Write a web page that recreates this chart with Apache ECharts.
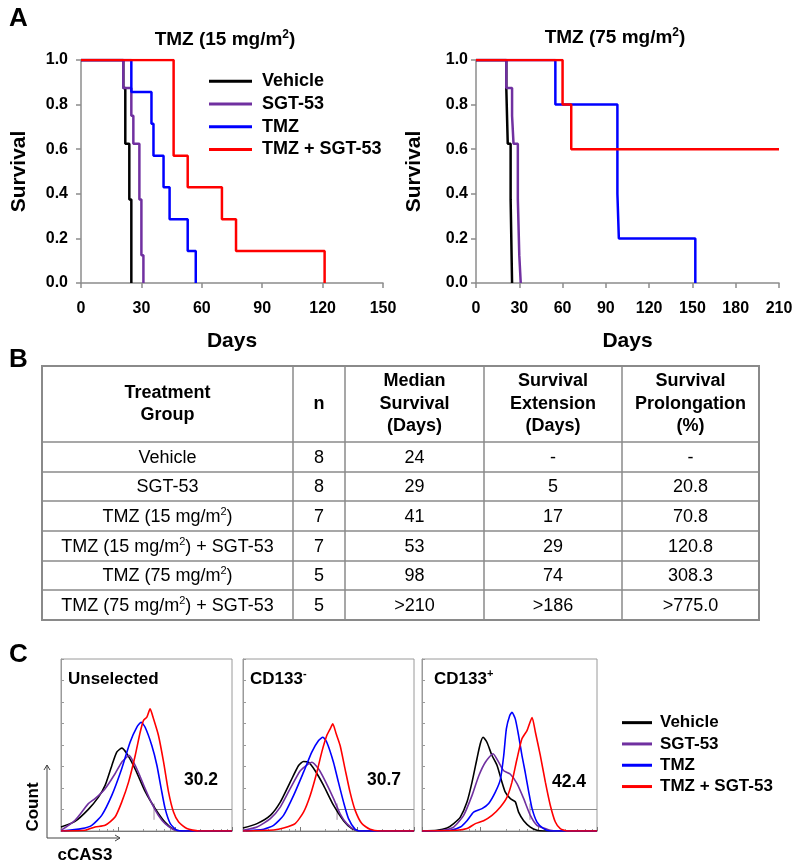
<!DOCTYPE html>
<html><head><meta charset="utf-8">
<script src="https://cdn.jsdelivr.net/npm/echarts@6/dist/echarts.min.js"></script>
<style>html,body{margin:0;padding:0;background:#fff}#c{width:800px;height:868px}</style>
</head><body><div id="c"></div>
<script>
// ---------- Panel A data (Kaplan-Meier, [day, survival]) ----------
const seriesNames = ['Vehicle', 'SGT-53', 'TMZ', 'TMZ + SGT-53'];
const seriesColors = ['#000000', '#7030A0', '#0000FF', '#FF0000'];
const vehicleKM = [[0,1],[21,0.875],[22,0.625],[24,0.375],[25,0]];
const sgt53KM = [[0,1],[21,0.875],[25,0.75],[26,0.625],[29,0.375],[30,0.125],[31,0]];
const tmz15KM = [[0,1],[25,0.857],[35,0.714],[36,0.571],[41,0.429],[44,0.286],[53,0.143],[57,0]];
const tmz15SgtKM = [[0,1],[46,0.571],[53,0.429],[70,0.286],[77,0.143],[121,0]];
const tmz75KM = [[0,1],[55,0.8],[98,0.4],[99,0.2],[152,0]];
const tmz75SgtKM = [[0,1],[60,0.8],[66,0.6],[210,0.6]];
const leftXTicks = [0, 150, 30];
const rightXTicks = [0, 210, 30];
const plotTitles = ['TMZ (15 mg/m²)', 'TMZ (75 mg/m²)'];

// ---------- Panel B data (table) ----------
const tableHeaders = ['Treatment\nGroup', 'n', 'Median\nSurvival\n(Days)', 'Survival\nExtension\n(Days)', 'Survival\nProlongation\n(%)'];
const treatmentGroups = ['Vehicle', 'SGT-53', 'TMZ (15 mg/m²)', 'TMZ (15 mg/m²) + SGT-53', 'TMZ (75 mg/m²)', 'TMZ (75 mg/m²) + SGT-53'];
const nValues = ['8', '8', '7', '7', '5', '5'];
const medianSurvival = ['24', '29', '41', '53', '98', '>210'];
const survivalExtension = ['-', '5', '17', '29', '74', '>186'];
const survivalProlongation = ['-', '20.8', '70.8', '120.8', '308.3', '>775.0'];

// ---------- Panel C data (histograms, [% of panel width (3 log decades), % of panel height]) ----------
const panelTitles = ['Unselected', 'CD133⁻', 'CD133⁺'];
const gatePercents = ['30.2', '30.7', '42.4'];
const gateStart = [54.4, 55, 61.7];
const unselVehicle = [[0,2.3],[8.2,5.6],[16,12.6],[21.9,19.7],[25.8,26.5],[29.7,38],[32.6,45.8],[35.5,48.2],[38.5,45],[43.4,36],[49.2,23],[55.1,13],[60.9,5],[65.8,1],[70.7,0],[100,0]];
const unselSGT = [[0,0.4],[8.2,6.2],[16,15.9],[19.9,18.8],[25.8,24.6],[31.6,33.3],[35.5,40],[38.5,43],[39.8,44],[42.4,40],[45.3,34],[49.2,24.6],[53.1,16],[57,9],[60.9,4.3],[66.8,0.4],[72,0],[100,0]];
const unselTMZ = [[0,0],[12.1,1.4],[18,3.3],[23.8,9.1],[29.7,20.7],[35.5,36.2],[40.4,51.6],[44.3,60.3],[46.9,63.2],[49.2,60.3],[53.1,49.7],[56.1,38.1],[58.6,24.6],[60.9,13],[63.9,4.3],[67.8,0.4],[72,0],[100,0]];
const unselCombo = [[0,0],[14.1,0.4],[19.9,2.3],[25.8,3.3],[31.6,8.1],[35.5,16.8],[39.5,28.4],[43.4,43.9],[46.3,57.4],[48.2,64.2],[50.2,66.2],[52.1,71],[54.1,65.2],[57,55.5],[60,40],[62.9,22.6],[65.8,11],[68.8,5.2],[73.6,1.4],[80.5,0],[100,0]];
const negVehicle = [[0,1.7],[8.2,4.3],[16,9.1],[21.8,16.8],[27.6,28.4],[32.5,38.1],[35.4,40.4],[38.3,40],[42.2,35],[47.1,26.5],[52.9,15],[58.8,6],[63.6,1.4],[68.5,0],[100,0]];
const negSGT = [[0,0.4],[8.2,2.3],[16,7.2],[21.8,13.9],[27.6,24.6],[33.5,35],[38.3,39],[40.3,40],[44.2,36],[48.1,29],[52.9,19],[56.8,10],[60.7,4.3],[65.6,0.6],[70,0],[100,0]];
const negTMZ = [[0,0],[12.1,1],[17.9,3.3],[23.7,9.1],[29.6,20.7],[35.4,34.2],[40.3,46],[44.2,52.6],[46.7,54.5],[49,51.6],[52.9,40],[55.8,28.4],[58.8,16.8],[61.7,7.2],[65.6,1],[68.5,0],[100,0]];
const negCombo = [[0,0],[17.9,0.6],[23.7,1.7],[30.5,4.3],[35.4,11],[39.3,20.7],[43.2,34.2],[46.1,46],[49,55.5],[51,59.4],[52.5,62.3],[54.5,56.5],[56.8,49.7],[59.7,36],[62.6,22.6],[65.6,12],[69.5,4.3],[74.3,1],[80.2,0],[100,0]];
const posVehicle = [[0,0],[8.6,0.4],[14.3,1.7],[18.1,4.3],[21.9,8.1],[25.7,16.8],[28.6,28.4],[31.4,42],[33.3,50.7],[34.9,54.5],[37.1,51.6],[40,43.9],[42.9,38.1],[45.7,28.4],[47.6,22.6],[50.5,18.8],[53.3,17],[55.2,11],[58.1,6],[61.9,2.3],[65.7,0.4],[69.5,0],[100,0]];
const posSGT = [[0,0],[12.4,0.4],[18.1,2.3],[23.8,9.1],[28.6,20.7],[32.4,32],[36.2,40],[40.6,44.9],[43.8,40],[46.7,35],[50.5,33],[54.3,27.5],[58.1,18.8],[61.9,9.1],[65.7,3.3],[69.5,1.7],[73.3,0.4],[77.1,0],[100,0]];
const posTMZ = [[0,0],[16.2,0.4],[21.9,2.3],[25.7,6],[29.5,11],[34.3,13],[38.1,16],[41.9,22.6],[44.8,30],[46.7,43.9],[48.2,59.4],[50.1,67],[51.4,69],[53.3,65.2],[55.2,55.5],[57.1,44],[59,34],[61,22.6],[62.9,13],[65.7,5.2],[69.5,1.4],[73.3,0],[100,0]];
const posCombo = [[0,0],[20,0.4],[25.7,1.4],[30.5,4.3],[35.2,6],[40,9.1],[44.8,14],[48.6,19.7],[51.4,28.4],[54.3,42],[57.1,53.6],[60,58.4],[62.9,66],[64.8,57.4],[67.6,44],[70.5,28.4],[73.3,15],[76.2,5.2],[79,1.4],[82.9,0],[100,0]];
const histPanels = [
  [unselVehicle, unselSGT, unselTMZ, unselCombo],
  [negVehicle, negSGT, negTMZ, negCombo],
  [posVehicle, posSGT, posTMZ, posCombo]
];

// ---------- build ----------
const FONT = '"Liberation Sans", Arial, Helvetica, sans-serif';
const chart = echarts.init(document.getElementById('c'), null, {renderer: 'canvas', width: 800, height: 868});
const SUPMAP = {'²': '2', '⁺': '+', '⁻': '-'};
function richify(s) {
  return '{t|' + s.replace(/[²⁺⁻]/g, m => '}{s|' + SUPMAP[m] + '}{t|') + '}';
}
function richStyles(size, bold) {
  const w = bold ? 'bold' : 'normal';
  return {
    t: {fontSize: size, fontWeight: w, fontFamily: FONT, lineHeight: size + 4, fill: '#000', color: '#000'},
    s: {fontSize: Math.round(size * 0.62), fontWeight: w, fontFamily: FONT, lineHeight: Math.round(size * 0.62) + 2, verticalAlign: 'top', fill: '#000', color: '#000'}
  };
}
function txt(x, y, text, size, bold, align, vAlign, extra) {
  return {
    type: 'text', x: x, y: y, silent: true,
    style: Object.assign({
      text: richify(text), rich: richStyles(size, bold),
      fontSize: size, fontWeight: bold ? 'bold' : 'normal', fontFamily: FONT, fill: '#000',
      align: align || 'left', textAlign: align || 'left',
      verticalAlign: vAlign || 'middle', textVerticalAlign: vAlign || 'middle'
    }, extra || {})
  };
}

const grids = [
  {left: 81, top: 60, width: 302, height: 223},
  {left: 476, top: 60, width: 303, height: 223},
  {left: 61, top: 659, width: 171, height: 172, show: true, borderColor: '#9a9a9a', borderWidth: 1},
  {left: 243, top: 659, width: 171, height: 172, show: true, borderColor: '#9a9a9a', borderWidth: 1},
  {left: 422, top: 659, width: 175, height: 172, show: true, borderColor: '#9a9a9a', borderWidth: 1}
];

const axisGray = '#8c8c8c';
function kmX(gi, ticks, labelMargin) {
  return {
    gridIndex: gi, type: 'value', min: ticks[0], max: ticks[1], interval: ticks[2],
    axisLine: {lineStyle: {color: axisGray, width: 1.5}},
    axisTick: {show: true, length: 5, lineStyle: {color: axisGray, width: 1.5}},
    axisLabel: {margin: labelMargin, color: '#000', fontWeight: 'bold', fontSize: 16, fontFamily: FONT},
    splitLine: {show: false},
    name: 'Days', nameLocation: 'middle', nameGap: 48,
    nameTextStyle: {fontSize: 21, fontWeight: 'bold', color: '#000', fontFamily: FONT}
  };
}
function kmY(gi, labelMargin) {
  return {
    gridIndex: gi, type: 'value', min: 0, max: 1, interval: 0.2,
    axisLine: {show: true, lineStyle: {color: axisGray, width: 1.5}},
    axisTick: {show: true, length: 5, lineStyle: {color: axisGray, width: 1.5}},
    axisLabel: {margin: labelMargin, color: '#000', fontWeight: 'bold', fontSize: 16, fontFamily: FONT, formatter: v => v.toFixed(1)},
    splitLine: {show: false},
    name: 'Survival', nameLocation: 'middle', nameGap: 51, nameRotate: 90,
    nameTextStyle: {fontSize: 21, fontWeight: 'bold', color: '#000', fontFamily: FONT}
  };
}
function histX(gi) {
  return {
    gridIndex: gi, type: 'log', logBase: 10, min: 1, max: 1000,
    axisLine: {lineStyle: {color: '#777', width: 1}},
    axisTick: {show: true, inside: true, length: 4, lineStyle: {color: '#777'}},
    minorTick: {show: true, splitNumber: 5, length: 2, lineStyle: {color: '#999'}},
    axisLabel: {show: false}, splitLine: {show: false}, minorSplitLine: {show: false}
  };
}
function histY(gi) {
  return {
    gridIndex: gi, type: 'value', min: 0, max: 100, interval: 12.5,
    axisLine: {show: true, lineStyle: {color: '#9a9a9a', width: 1}},
    axisTick: {show: true, inside: true, length: 3, lineStyle: {color: '#9a9a9a'}},
    axisLabel: {show: false}, splitLine: {show: false}
  };
}

const xAxes = [kmX(0, leftXTicks, 18), kmX(1, rightXTicks, 18), histX(2), histX(3), histX(4)];
const yAxes = [kmY(0, 13), kmY(1, 8), histY(2), histY(3), histY(4)];

const series = [];
const leftKM = [vehicleKM, sgt53KM, tmz15KM, tmz15SgtKM];
const rightKM = [vehicleKM, sgt53KM, tmz75KM, tmz75SgtKM];
[leftKM, rightKM].forEach((set, gi) => {
  set.forEach((d, i) => {
    series.push({
      name: seriesNames[i], type: 'line', step: 'end', data: d, xAxisIndex: gi, yAxisIndex: gi,
      symbol: 'none', showSymbol: false, silent: true, animation: false,
      lineStyle: {color: seriesColors[i], width: 2.5}, itemStyle: {color: seriesColors[i]}
    });
  });
});
const toLog = p => [Math.pow(10, p[0] * 0.03), p[1]];
histPanels.forEach((panel, pi) => {
  const ai = pi + 2;
  series.push({type: 'line', data: [[gateStart[pi], 12.5], [100, 12.5]].map(toLog), xAxisIndex: ai, yAxisIndex: ai,
    symbol: 'none', silent: true, animation: false, lineStyle: {color: '#8a8a8a', width: 1}, z: 1});
  series.push({type: 'line', data: [[gateStart[pi], 6.5], [gateStart[pi], 16]].map(toLog), xAxisIndex: ai, yAxisIndex: ai,
    symbol: 'none', silent: true, animation: false, lineStyle: {color: '#a090a0', width: 1}, z: 1});
  panel.forEach((d, i) => {
    series.push({
      name: seriesNames[i], type: 'line', data: d.map(toLog), xAxisIndex: ai, yAxisIndex: ai,
      symbol: 'none', showSymbol: false, silent: true, animation: false, smooth: 0.2,
      lineStyle: {color: seriesColors[i], width: 1.6}, itemStyle: {color: seriesColors[i]}, z: 3
    });
  });
});

// ---------- graphics ----------
const graphics = [];
graphics.push(txt(9, 19, 'A', 26, true));
graphics.push(txt(9, 360, 'B', 26, true));
graphics.push(txt(9, 655, 'C', 26, true));
graphics.push(txt(225, 40, plotTitles[0], 19, true, 'center'));
graphics.push(txt(615, 38, plotTitles[1], 19, true, 'center'));

const colX = [42, 293, 345, 484, 622, 759];
const rowY = [366, 442, 472, 501, 531, 561, 590, 620];
const tblColor = '#8a8a8a';
graphics.push({type: 'rect', shape: {x: colX[0], y: rowY[0], width: colX[5] - colX[0], height: rowY[7] - rowY[0]},
  style: {fill: 'none', stroke: tblColor, lineWidth: 2}, silent: true});
for (let i = 1; i < colX.length - 1; i++) {
  graphics.push({type: 'line', shape: {x1: colX[i], y1: rowY[0], x2: colX[i], y2: rowY[7]}, style: {stroke: tblColor, lineWidth: 1.5}, silent: true});
}
for (let j = 1; j < rowY.length - 1; j++) {
  graphics.push({type: 'line', shape: {x1: colX[0], y1: rowY[j], x2: colX[5], y2: rowY[j]}, style: {stroke: tblColor, lineWidth: 1.5}, silent: true});
}
tableHeaders.forEach((h, c) => {
  graphics.push({type: 'text', x: (colX[c] + colX[c + 1]) / 2, y: (rowY[0] + rowY[1]) / 2, silent: true,
    style: {text: h, fontSize: 18, fontWeight: 'bold', fontFamily: FONT, fill: '#000', lineHeight: 22.5,
      align: 'center', textAlign: 'center', verticalAlign: 'middle', textVerticalAlign: 'middle'}});
});
const tableCols = [treatmentGroups, nValues, medianSurvival, survivalExtension, survivalProlongation];
tableCols.forEach((col, c) => {
  col.forEach((v, r) => {
    graphics.push(txt((colX[c] + colX[c + 1]) / 2, (rowY[r + 1] + rowY[r + 2]) / 2 + 1, v, 18, false, 'center'));
  });
});

const panelLeft = [68, 250, 434];
panelTitles.forEach((t, i) => graphics.push(txt(panelLeft[i], 679, t, 17, true)));
const pctPos = [[201, 780], [384, 780], [569, 782]];
gatePercents.forEach((t, i) => graphics.push(txt(pctPos[i][0], pctPos[i][1], t, 17.5, true, 'center')));
const countLabel = txt(33, 807, 'Count', 17, true, 'center');
countLabel.rotation = Math.PI / 2;
graphics.push(countLabel);
graphics.push(txt(85, 855, 'cCAS3', 17, true, 'center'));
const arrowColor = '#444';
graphics.push({type: 'polyline', shape: {points: [[47, 765], [47, 838], [120, 838]]}, style: {stroke: arrowColor, lineWidth: 1, fill: null}, silent: true});
graphics.push({type: 'polyline', shape: {points: [[44, 770], [47, 765], [50, 770]]}, style: {stroke: arrowColor, lineWidth: 1, fill: null}, silent: true});
graphics.push({type: 'polyline', shape: {points: [[115, 835], [120, 838], [115, 841]]}, style: {stroke: arrowColor, lineWidth: 1, fill: null}, silent: true});

const option = {
  backgroundColor: '#ffffff',
  animation: false,
  grid: grids,
  xAxis: xAxes,
  yAxis: yAxes,
  legend: [
    {data: seriesNames, orient: 'vertical', left: 209, top: 70, padding: 0, icon: 'rect', itemWidth: 43, itemHeight: 3, itemGap: 0,
      selectedMode: false, textStyle: {fontSize: 18, lineHeight: 22.7, fontWeight: 'bold', fontFamily: FONT, color: '#000', padding: [0, 0, 0, 5]}},
    {data: seriesNames, orient: 'vertical', left: 622, top: 712, padding: 0, icon: 'rect', itemWidth: 30, itemHeight: 3, itemGap: 0,
      selectedMode: false, textStyle: {fontSize: 17, lineHeight: 21.3, fontWeight: 'bold', fontFamily: FONT, color: '#000', padding: [0, 0, 0, 3]}}
  ],
  series: series,
  graphic: {elements: graphics}
};
chart.setOption(option);
</script></body></html>
